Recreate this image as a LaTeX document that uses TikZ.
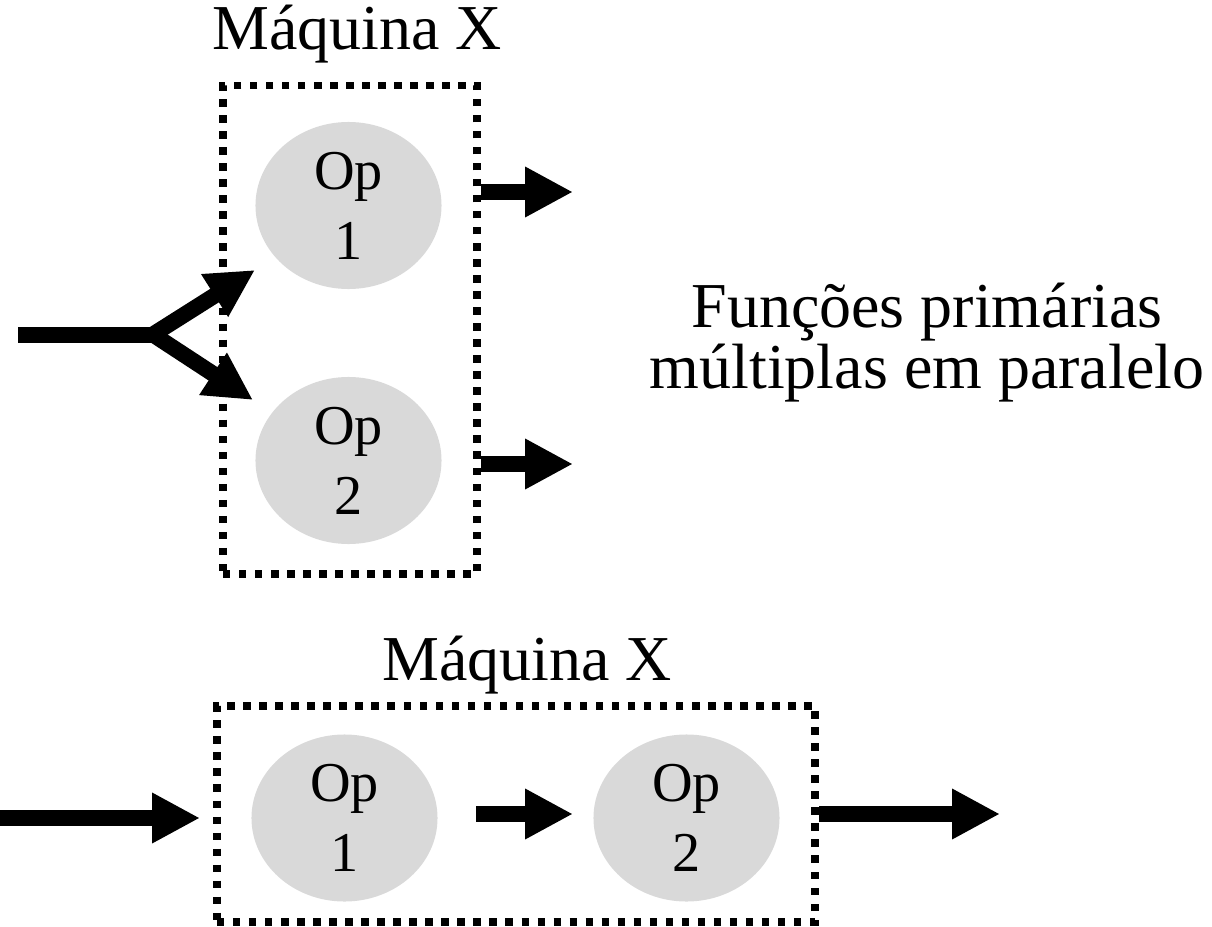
\documentclass[tikz,border=0pt]{standalone}
\usepackage{fontspec}
\setmainfont{Liberation Serif}
\usetikzlibrary{arrows.meta,shapes.geometric}
\tikzset{
  opnode/.style={ellipse, fill=opgray, draw=none, inner sep=0pt,
    minimum width=186*0.71132pt, minimum height=167*0.71132pt,
    align=center, font=\fontsize{40pt}{49.8pt}\selectfont},
  machbox/.style={draw=black, line width=5.6pt, dash pattern=on 5.3pt off 6.1pt,
    inner sep=0pt},
  bigtext/.style={font=\fontsize{45.5pt}{43.4pt}\selectfont, inner sep=0pt, anchor=base},
  arr/.style={line width=16*0.71132pt, -{Triangle[length=34pt,width=33.5pt]}},
  shaft/.style={line width=16*0.71132pt}
}
\definecolor{opgray}{HTML}{D9D9D9}
\begin{document}
\begin{tikzpicture}[x=0.025cm, y=-0.025cm]
\useasboundingbox (0,0) rectangle (1212,927);
% ---------- top diagram ----------
\node[opnode] (to1) at (348.5,205.5) {Op\\1};
\node[opnode] (to2) at (348.5,460.5) {Op\\2};
\node[machbox, minimum width=254*0.71132pt, minimum height=488*0.71132pt] (box1) at (350,329.5) {};
\node[bigtext] (lab1) at (357,50) {Máquina X};
\node[bigtext] (fun1) at (927,327) {Funções primárias};
\node[bigtext] (fun2) at (927,388) {múltiplas em paralelo};
\coordinate (in1) at (18,334.5);
\coordinate (fork) at (153,334.5);
\coordinate (f1) at (255,270);
\coordinate (f2) at (253,400);
\draw[shaft] (in1) -- (fork);
\draw[arr] (fork) -- (f1);
\draw[arr] (fork) -- (f2);
\coordinate (o1) at (573,192);
\coordinate (o2) at (573,464);
\draw[arr] (box1.east |- o1) -- (o1);
\draw[arr] (box1.east |- o2) -- (o2);
% ---------- bottom diagram ----------
\node[opnode] (bo1) at (344.5,818) {Op\\1};
\node[opnode] (bo2) at (686.5,818) {Op\\2};
\node[machbox, minimum width=598*0.71132pt, minimum height=216*0.71132pt] (box2) at (516,814) {};
\node[bigtext] (lab2) at (527,680) {Máquina X};
\coordinate (in2) at (0,818);
\coordinate (i2) at (200,818);
\draw[arr] (in2) -- (i2);
\coordinate (m1) at (476,814);
\coordinate (m2) at (573,814);
\draw[arr] (m1) -- (m2);
\coordinate (o3) at (1000,814);
\draw[arr] (box2.east |- o3) -- (o3);
\end{tikzpicture}
\end{document}
